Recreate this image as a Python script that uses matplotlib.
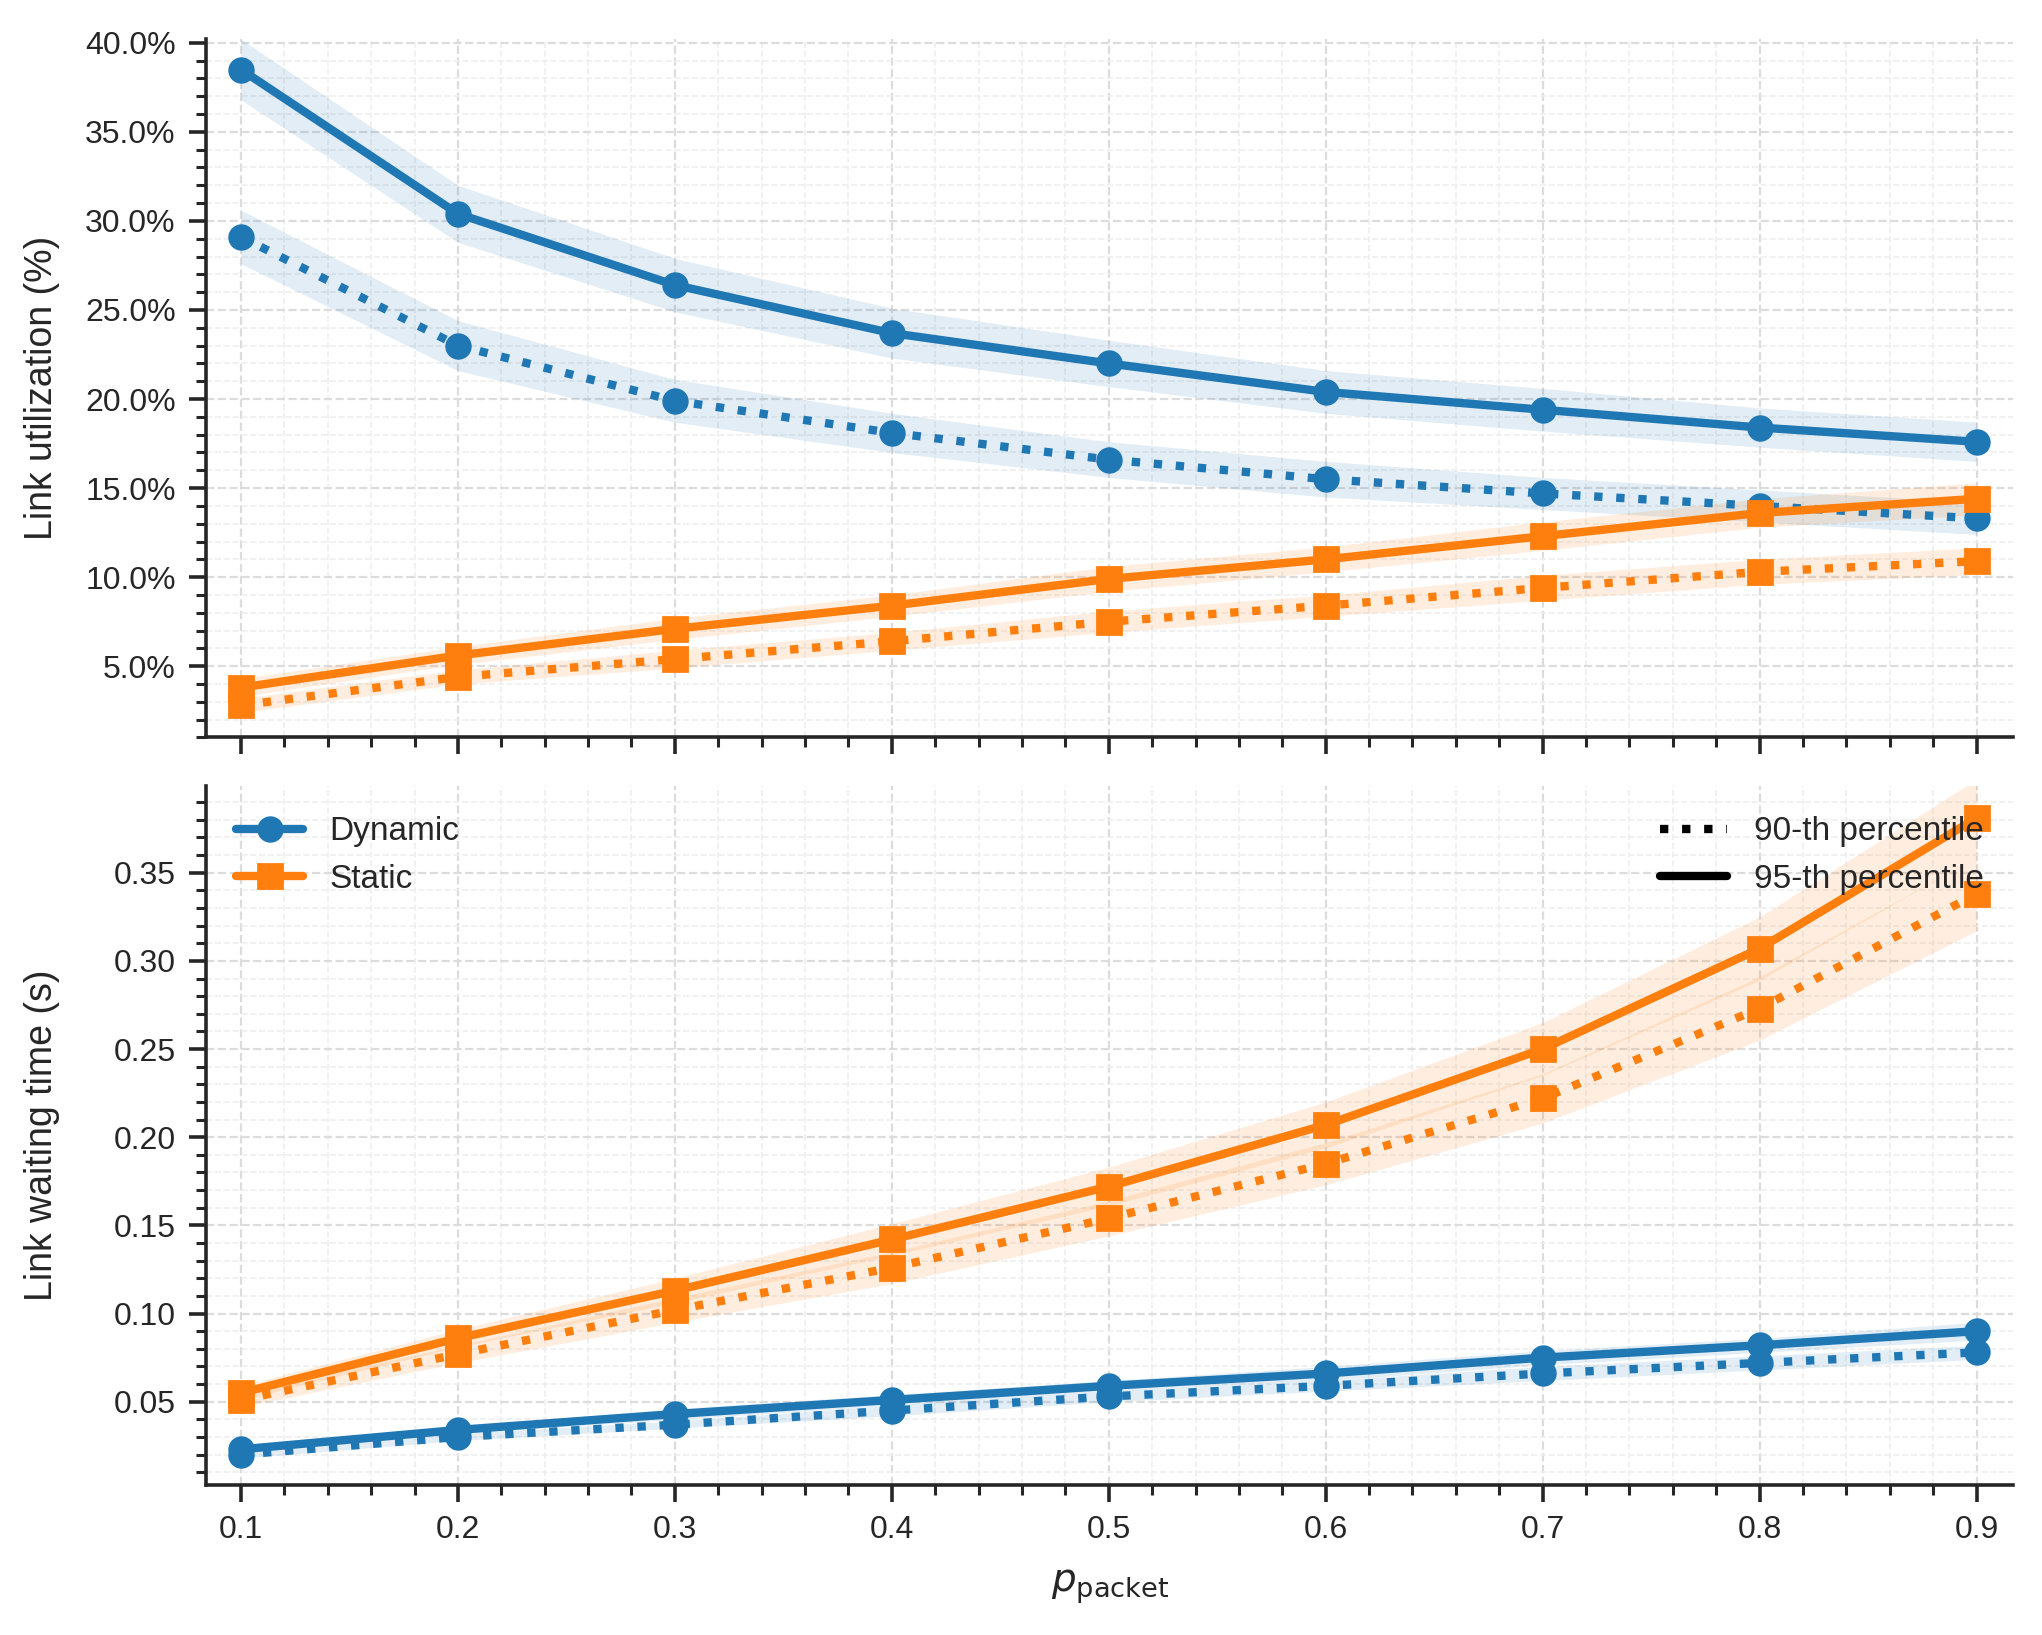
import matplotlib
matplotlib.use("Agg")
import matplotlib.pyplot as plt
import numpy as np
import seaborn as sns
from matplotlib.lines import Line2D
from matplotlib.ticker import MultipleLocator, PercentFormatter

# x values
p_packet = [0.1, 0.2, 0.3, 0.4, 0.5, 0.6, 0.7, 0.8, 0.9]

# link utilization (%), 95-th and 90-th percentile
util_dyn_95 = [38.5, 30.4, 26.4, 23.7, 22.0, 20.4, 19.4, 18.4, 17.6]
util_dyn_90 = [29.1, 23.0, 19.9, 18.1, 16.6, 15.5, 14.7, 14.0, 13.3]
util_sta_95 = [3.8, 5.6, 7.1, 8.4, 9.9, 11.0, 12.3, 13.6, 14.4]
util_sta_90 = [2.8, 4.4, 5.4, 6.4, 7.5, 8.4, 9.4, 10.3, 10.9]
util_dyn_95_err = [1.7, 1.6, 1.5, 1.4, 1.3, 1.2, 1.2, 1.1, 1.1]
util_dyn_90_err = [1.5, 1.4, 1.2, 1.1, 1.0, 1.0, 0.9, 0.9, 0.9]
util_sta_95_err = [0.5, 0.5, 0.6, 0.6, 0.7, 0.7, 0.8, 0.8, 0.9]
util_sta_90_err = [0.4, 0.4, 0.5, 0.5, 0.6, 0.6, 0.7, 0.7, 0.75]

# link waiting time (s)
wait_dyn_95 = [0.023, 0.034, 0.043, 0.051, 0.059, 0.066, 0.075, 0.082, 0.090]
wait_dyn_90 = [0.020, 0.030, 0.037, 0.045, 0.053, 0.059, 0.066, 0.072, 0.078]
wait_sta_95 = [0.055, 0.086, 0.113, 0.142, 0.172, 0.207, 0.250, 0.307, 0.381]
wait_sta_90 = [0.051, 0.077, 0.102, 0.126, 0.154, 0.185, 0.222, 0.273, 0.338]
wait_dyn_95_err = [0.002, 0.002, 0.003, 0.003, 0.003, 0.004, 0.004, 0.004, 0.005]
wait_dyn_90_err = [0.002, 0.002, 0.002, 0.003, 0.003, 0.003, 0.004, 0.004, 0.004]
wait_sta_95_err = [0.004, 0.005, 0.007, 0.009, 0.011, 0.013, 0.015, 0.018, 0.022]
wait_sta_90_err = [0.004, 0.005, 0.007, 0.009, 0.010, 0.012, 0.014, 0.018, 0.021]

BLUE = "#1f77b4"
ORANGE = "#ff7f0e"

sns.set_theme(style="ticks")
plt.rcParams["font.family"] = ["Liberation Sans", "DejaVu Sans"]


def draw_series(ax, y, err, color, marker, ls):
    y = np.array(y)
    err = np.array(err)
    ax.fill_between(p_packet, y - err, y + err, color=color, alpha=0.13, lw=0, zorder=1)
    ax.plot(p_packet, y, color=color, marker=marker, ls=ls, lw=3, ms=8.5, zorder=3)


def style_axis(ax, major, minor):
    ax.xaxis.set_major_locator(MultipleLocator(0.1))
    ax.xaxis.set_minor_locator(MultipleLocator(0.02))
    ax.yaxis.set_major_locator(MultipleLocator(major))
    ax.yaxis.set_minor_locator(MultipleLocator(minor))
    ax.grid(which="major", ls="--", color="#dcdcdc", lw=0.8)
    ax.grid(which="minor", ls="--", color="#efefef", lw=0.6)
    ax.set_axisbelow(True)
    ax.tick_params(which="major", length=6, width=1.3, labelsize=11.5, color="#262626", pad=5)
    ax.tick_params(which="minor", length=3.5, width=1.1, color="#262626")
    for s in ("left", "bottom"):
        ax.spines[s].set_linewidth(1.3)
        ax.spines[s].set_color("#262626")
    sns.despine(ax=ax)


fig, (ax1, ax2) = plt.subplots(2, 1, figsize=(10.21, 8.175), dpi=200, sharex=True)
fig.subplots_adjust(left=0.101, right=0.986, top=0.976, bottom=0.092, hspace=0.07)

draw_series(ax1, util_dyn_95, util_dyn_95_err, BLUE, "o", "-")
draw_series(ax1, util_dyn_90, util_dyn_90_err, BLUE, "o", ":")
draw_series(ax1, util_sta_95, util_sta_95_err, ORANGE, "s", "-")
draw_series(ax1, util_sta_90, util_sta_90_err, ORANGE, "s", ":")
style_axis(ax1, 5, 1)
ax1.yaxis.set_major_formatter(PercentFormatter(100, decimals=1))
ax1.set_ylim(1.0, 40.2)
ax1.set_ylabel("Link utilization (%)", fontsize=13.5, labelpad=9)

draw_series(ax2, wait_dyn_95, wait_dyn_95_err, BLUE, "o", "-")
draw_series(ax2, wait_dyn_90, wait_dyn_90_err, BLUE, "o", ":")
draw_series(ax2, wait_sta_95, wait_sta_95_err, ORANGE, "s", "-")
draw_series(ax2, wait_sta_90, wait_sta_90_err, ORANGE, "s", ":")
style_axis(ax2, 0.05, 0.01)
ax2.set_ylim(0.003, 0.399)
ax2.set_xlim(0.084, 0.917)
ax2.set_ylabel("Link waiting time (s)", fontsize=13.5, labelpad=9)
ax2.set_xlabel(r"$p_{\mathrm{packet}}$", fontsize=14, labelpad=8)

method_handles = [
    Line2D([], [], color=BLUE, marker="o", lw=3, ms=8.5, label="Dynamic"),
    Line2D([], [], color=ORANGE, marker="s", lw=3, ms=8.5, label="Static"),
]
pct_handles = [
    Line2D([], [], color="black", ls=":", lw=3, label="90-th percentile"),
    Line2D([], [], color="black", ls="-", lw=3, label="95-th percentile"),
]
leg1 = ax2.legend(handles=method_handles, loc="upper left", frameon=False, fontsize=12)
ax2.add_artist(leg1)
ax2.legend(handles=pct_handles, loc="upper right", frameon=False, fontsize=12)

fig.align_ylabels([ax1, ax2])
fig.savefig("out.png", dpi=200)
